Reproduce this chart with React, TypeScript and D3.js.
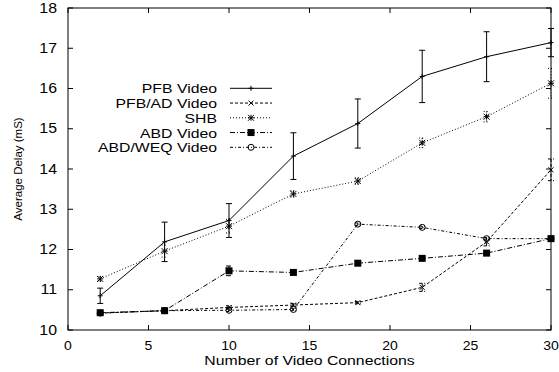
import * as d3 from 'd3';

// x positions (number of video connections)
const connections = [2, 6, 10, 14, 18, 22, 26, 30];

const pfbVideo = [10.85, 12.19, 12.72, 14.32, 15.13, 16.3, 16.79, 17.14];
const pfbVideoErr = [0.19, 0.49, 0.42, 0.58, 0.61, 0.65, 0.62, 0.35];

const pfbAdVideo = [10.42, 10.48, 10.56, 10.62, 10.68, 11.06, 12.19, 13.98];
const pfbAdVideoErr = [0.03, 0.03, 0.04, 0.04, 0.03, 0.1, 0.1, 0.27];

const shb = [11.27, 11.96, 12.58, 13.38, 13.7, 14.65, 15.3, 16.13];
const shbErr = [0.06, 0.15, 0.17, 0.08, 0.08, 0.12, 0.13, 0.37];

const abdVideo = [10.43, 10.48, 11.47, 11.43, 11.66, 11.78, 11.91, 12.27];
const abdVideoErr = [0.03, 0.03, 0.12, 0.04, 0.04, 0.03, 0.03, 0.03];

const abdWeqVideo = [10.42, 10.48, 10.49, 10.51, 12.63, 12.55, 12.27, 12.27];
const abdWeqVideoErr = [0.03, 0.03, 0.03, 0.03, 0.03, 0.03, 0.03, 0.03];

const xTicks = [0, 5, 10, 15, 20, 25, 30];
const yTicks = [10, 11, 12, 13, 14, 15, 16, 17, 18];

type Marker = 'plus' | 'cross' | 'star' | 'square' | 'circle';

const series: {
  name: string;
  values: number[];
  err: number[];
  dash: string;
  marker: Marker;
}[] = [
  { name: 'PFB Video', values: pfbVideo, err: pfbVideoErr, dash: '', marker: 'plus' },
  { name: 'PFB/AD Video', values: pfbAdVideo, err: pfbAdVideoErr, dash: '3,2', marker: 'cross' },
  { name: 'SHB', values: shb, err: shbErr, dash: '1,2', marker: 'star' },
  { name: 'ABD Video', values: abdVideo, err: abdVideoErr, dash: '5,2,1,2', marker: 'square' },
  { name: 'ABD/WEQ Video', values: abdWeqVideo, err: abdWeqVideoErr, dash: '3,2,1,2', marker: 'circle' },
];

const width = 559;
const height = 372;
const margin = { top: 8, right: 8, bottom: 42, left: 68 };
const font = '"Liberation Sans", Arial, Helvetica, sans-serif';

// text in the original is a bit wider than tall, so stretch it horizontally
function Txt(props: {
  x: number;
  y: number;
  size: number;
  sx: number;
  anchor?: string;
  children: any;
}) {
  return (
    <text
      transform={`translate(${props.x},${props.y}) scale(${props.sx},1)`}
      fontSize={props.size}
      textAnchor={props.anchor ?? 'start'}
      fill="#000"
    >
      {props.children}
    </text>
  );
}

function MarkerShape({ type, cx, cy }: { type: Marker; cx: number; cy: number }) {
  const s = 2.5;
  if (type === 'plus')
    return <path d={`M${cx - s},${cy}H${cx + s}M${cx},${cy - s}V${cy + s}`} stroke="#000" />;
  if (type === 'cross')
    return (
      <path
        d={`M${cx - s},${cy - s}L${cx + s},${cy + s}M${cx - s},${cy + s}L${cx + s},${cy - s}`}
        stroke="#000"
      />
    );
  if (type === 'star')
    return (
      <g stroke="#000">
        <path d={`M${cx - 3},${cy}H${cx + 3}M${cx},${cy - 3}V${cy + 3}`} />
        <path d={`M${cx - 3},${cy - 3}L${cx + 3},${cy + 3}M${cx - 3},${cy + 3}L${cx + 3},${cy - 3}`} />
      </g>
    );
  if (type === 'square') return <rect x={cx - 3.5} y={cy - 3.5} width={7} height={7} fill="#000" />;
  return <circle cx={cx} cy={cy} r={3} fill="none" stroke="#000" />;
}

export default function App() {
  const x = d3
    .scaleLinear()
    .domain([0, 30])
    .range([margin.left, width - margin.right]);
  const y = d3
    .scaleLinear()
    .domain([10, 18])
    .range([height - margin.bottom, margin.top]);

  const line = d3
    .line<number>()
    .x((_d, i) => x(connections[i]))
    .y((d) => y(d));

  const x0 = x.range()[0];
  const x1 = x.range()[1];
  const y0 = y.range()[0];
  const y1 = y.range()[1];
  const tick = 5;

  // legend placement
  const legendTextX = 217;
  const legendLine = [230, 272];
  const legendTop = 88.3;
  const legendStep = 14.75;

  return (
    <svg
      width={width}
      height={height}
      style={{ position: 'absolute', left: 0, top: 0, background: '#fff' }}
      fontFamily={font}
    >
      <rect x={0} y={0} width={width} height={height} fill="#fff" />

      {/* ticks */}
      <g stroke="#000" strokeWidth={1}>
        {xTicks.map((t) => (
          <g key={'x' + t}>
            <line x1={x(t)} x2={x(t)} y1={y0} y2={y0 - tick} />
            <line x1={x(t)} x2={x(t)} y1={y1} y2={y1 + tick} />
          </g>
        ))}
        {yTicks.map((t) => (
          <g key={'y' + t}>
            <line x1={x0} x2={x0 + tick} y1={y(t)} y2={y(t)} />
            <line x1={x1} x2={x1 - tick} y1={y(t)} y2={y(t)} />
          </g>
        ))}
      </g>

      {/* tick labels */}
      {xTicks.map((t) => (
        <Txt key={'xl' + t} x={x(t)} y={349.5} size={12.5} sx={1.12} anchor="middle">
          {t}
        </Txt>
      ))}
      {yTicks.map((t) => (
        <Txt key={'yl' + t} x={57} y={y(t) + 4.5} size={13.8} sx={1.15} anchor="end">
          {t}
        </Txt>
      ))}

      {/* axis titles */}
      <Txt x={(x0 + x1) / 2} y={364.5} size={13.5} sx={1.17} anchor="middle">
        Number of Video Connections
      </Txt>
      <text
        transform={`translate(22,${(y0 + y1) / 2}) rotate(-90)`}
        textAnchor="middle"
        fontSize={11.5}
        fill="#000"
      >
        Average Delay (mS)
      </text>

      {/* series */}
      {series.map((s) => (
        <g key={s.name}>
          <path
            d={line(s.values) ?? ''}
            fill="none"
            stroke="#000"
            strokeWidth={1}
            strokeDasharray={s.dash || undefined}
          />
          {s.values.map((v, i) => {
            const cx = x(connections[i]);
            const top = y(v + s.err[i]);
            const bot = y(v - s.err[i]);
            return (
              <g key={i}>
                <path
                  d={`M${cx},${top}V${bot}M${cx - 3},${top}H${cx + 3}M${cx - 3},${bot}H${cx + 3}`}
                  stroke="#000"
                  fill="none"
                  strokeDasharray={s.dash || undefined}
                />
                <MarkerShape type={s.marker} cx={cx} cy={y(v)} />
              </g>
            );
          })}
        </g>
      ))}

      {/* legend */}
      {series.map((s, i) => {
        const ly = legendTop + i * legendStep;
        return (
          <g key={'lg' + s.name}>
            <Txt x={legendTextX} y={ly + 5} size={13.5} sx={1.17} anchor="end">
              {s.name}
            </Txt>
            <line
              x1={legendLine[0]}
              x2={legendLine[1]}
              y1={ly}
              y2={ly}
              stroke="#000"
              strokeDasharray={s.dash || undefined}
            />
            <MarkerShape type={s.marker} cx={(legendLine[0] + legendLine[1]) / 2} cy={ly} />
          </g>
        );
      })}

      {/* frame */}
      <rect x={x0} y={y1} width={x1 - x0} height={y0 - y1} fill="none" stroke="#000" strokeWidth={1} />
    </svg>
  );
}
